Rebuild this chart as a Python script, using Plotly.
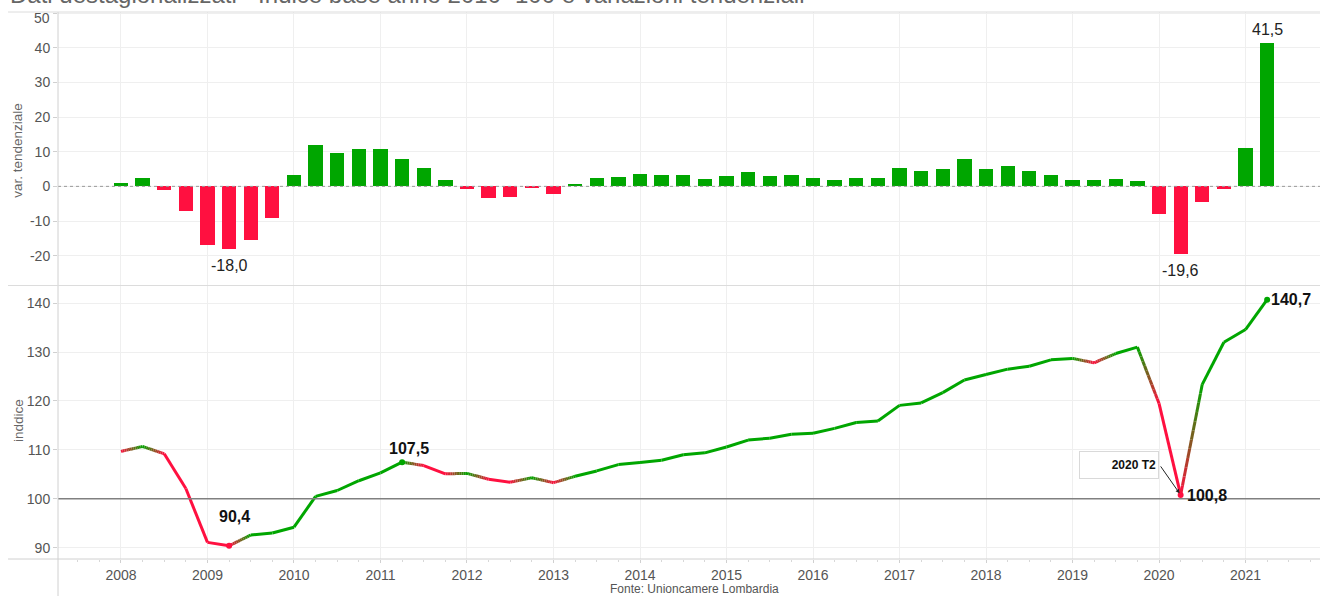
import plotly.graph_objects as go

# ---------------- data ----------------
periods = [f"{y} T{q}" for y in range(2008, 2022) for q in range(1, 5)][:54]

var_tendenziale = [
    1.0, 2.3, -1.0, -7.0,        # 2008
    -17.0, -18.0, -15.5, -9.0,   # 2009
    3.3, 11.8, 9.5, 10.8,        # 2010
    10.8, 8.0, 5.2, 1.8,         # 2011
    -0.9, -3.5, -3.0, -0.3,      # 2012
    -2.3, 0.6, 2.3, 2.8,         # 2013
    3.7, 3.2, 3.2, 2.1,          # 2014
    2.9, 4.0, 2.9, 3.2,          # 2015
    2.5, 1.8, 2.5, 2.5,          # 2016
    5.2, 4.5, 4.9, 7.9,          # 2017
    4.9, 5.9, 4.5, 3.2,          # 2018
    1.8, 1.8, 2.2, 1.5,          # 2019
    -8.1, -19.6, -4.4, -0.8,     # 2020
    11.0, 41.5,                  # 2021
]

indice = [
    109.7, 110.7, 109.2, 102.1,  # 2008
    91.1, 90.4, 92.6, 93.0,      # 2009
    94.2, 100.5, 101.7, 103.7,   # 2010
    105.3, 107.5, 106.8, 105.1,  # 2011
    105.2, 104.0, 103.4, 104.3,  # 2012
    103.3, 104.6, 105.7, 107.0,  # 2013
    107.4, 107.9, 109.0, 109.4,  # 2014
    110.6, 112.0, 112.4, 113.2,  # 2015
    113.4, 114.4, 115.6, 115.9,  # 2016
    119.1, 119.6, 121.7, 124.3,  # 2017
    125.4, 126.5, 127.1, 128.4,  # 2018
    128.7, 127.8, 129.7, 131.0,  # 2019
    119.5, 100.8, 123.4, 132.0,  # 2020
    134.6, 140.7,                # 2021
]

year_ticks = list(range(2008, 2022))
var_ticks = [-20, -10, 0, 10, 20, 30, 40, 50]
idx_ticks = [90, 100, 110, 120, 130, 140]
bar_label_periods = ["2009 T2", "2020 T2", "2021 T2"]
line_label_periods = ["2009 T2", "2011 T2", "2020 T2", "2021 T2"]
callout_period = "2020 T2"

# ---------------- styling ----------------
GREEN = (0, 166, 0)
RED = (255, 16, 64)
FONT = "Liberation Sans, Arial, sans-serif"


def rgb(c):
    return f"rgb({int(round(c[0]))},{int(round(c[1]))},{int(round(c[2]))})"


def fmt(v):
    return f"{v:.1f}".replace(".", ",")


x_num = [int(p.split(" T")[0]) + (int(p.split(" T")[1]) - 1) / 4 for p in periods]
pos = {p: i for i, p in enumerate(periods)}

fig = go.Figure()

# ---------------- bars (top panel) ----------------
bar_colors = [rgb(GREEN) if v >= 0 else rgb(RED) for v in var_tendenziale]
fig.add_trace(go.Bar(
    x=x_num, y=var_tendenziale, width=0.165,
    marker=dict(color=bar_colors, line=dict(width=0)),
    xaxis="x", yaxis="y", showlegend=False, hoverinfo="skip",
))

# ---------------- gradient line (bottom panel) ----------------
# vertex colour: green if the index rose vs previous quarter, red otherwise
vcol = ["r"]
for i in range(1, len(indice)):
    vcol.append("g" if indice[i] > indice[i - 1] else "r")

N = 12
solid = {"g": ([], []), "r": ([], [])}
grad = {}
for i in range(len(indice) - 1):
    a, b = vcol[i], vcol[i + 1]
    x0, x1 = x_num[i], x_num[i + 1]
    y0, y1 = indice[i], indice[i + 1]
    if a == b:
        solid[a][0].extend([x0, x1, None])
        solid[a][1].extend([y0, y1, None])
    else:
        for k in range(N):
            t0, t1 = k / N, (k + 1) / N
            key = (a + b, k)
            xs, ys = grad.setdefault(key, ([], []))
            xs.extend([x0 + (x1 - x0) * t0, x0 + (x1 - x0) * t1, None])
            ys.extend([y0 + (y1 - y0) * t0, y0 + (y1 - y0) * t1, None])

for c, (xs, ys) in solid.items():
    fig.add_trace(go.Scatter(
        x=xs, y=ys, mode="lines", xaxis="x2", yaxis="y2",
        line=dict(color=rgb(GREEN if c == "g" else RED), width=3),
        showlegend=False, hoverinfo="skip",
    ))
for (kind, k), (xs, ys) in grad.items():
    t = (k + 0.5) / N
    ca, cb = (GREEN, RED) if kind == "gr" else (RED, GREEN)
    col = tuple(ca[j] + (cb[j] - ca[j]) * t for j in range(3))
    fig.add_trace(go.Scatter(
        x=xs, y=ys, mode="lines", xaxis="x2", yaxis="y2",
        line=dict(color=rgb(col), width=3),
        showlegend=False, hoverinfo="skip",
    ))

# markers at labelled points
lp_idx = [pos[p] for p in line_label_periods]
fig.add_trace(go.Scatter(
    x=[x_num[i] for i in lp_idx], y=[indice[i] for i in lp_idx],
    mode="markers", xaxis="x2", yaxis="y2",
    marker=dict(size=6, color=[rgb(GREEN if vcol[i] == "g" else RED) for i in lp_idx]),
    showlegend=False, hoverinfo="skip",
))

annotations = []

# bar value labels
for p in bar_label_periods:
    i = pos[p]
    v = var_tendenziale[i]
    annotations.append(dict(
        x=x_num[i], y=v, xref="x", yref="y", text=fmt(v), showarrow=False,
        yanchor="top" if v < 0 else "bottom", yshift=-6 if v < 0 else 3,
        font=dict(family=FONT, size=16, color="#222"),
    ))

# line value labels
line_label_style = {
    "2009 T2": dict(xanchor="center", yanchor="middle", xshift=5, yshift=29),
    "2011 T2": dict(xanchor="center", yanchor="middle", xshift=7, yshift=14),
    "2020 T2": dict(xanchor="left", yanchor="middle", xshift=4, yshift=-1),
    "2021 T2": dict(xanchor="left", yanchor="middle", xshift=2, yshift=0),
}
for p in line_label_periods:
    i = pos[p]
    annotations.append(dict(
        x=x_num[i], y=indice[i], xref="x2", yref="y2",
        text=f"<b>{fmt(indice[i])}</b>", showarrow=False,
        font=dict(family=FONT, size=16, color="#111"),
        **line_label_style[p],
    ))

# callout box + arrow
ci = pos[callout_period]
annotations.append(dict(
    x=x_num[ci], y=indice[ci], xref="x2", yref="y2",
    text="<b>2020 T2</b>", showarrow=False,
    xanchor="center", yanchor="middle", xshift=-62, yshift=30,
    width=74, height=22, align="right", borderpad=2,
    bordercolor="#d9d9d9", borderwidth=1, bgcolor="white",
    font=dict(family=FONT, size=12, color="#111"),
))
annotations.append(dict(
    x=x_num[ci], y=indice[ci], xref="x2", yref="y2", text="",
    showarrow=True, ax=-21, ay=-30, arrowhead=2, arrowsize=0.8,
    arrowwidth=1, arrowcolor="#222", standoff=2,
))

# top tick label of the bar axis, nudged inside the panel as in the reference
top_tick = var_ticks[-1]
annotations.append(dict(
    x=0, y=top_tick, xref="paper", yref="y", text=str(top_tick), showarrow=False,
    xanchor="right", yanchor="middle", xshift=-6, yshift=-5,
    font=dict(family=FONT, size=14, color="#555"),
))

# axis titles
annotations.append(dict(
    x=-0.0317, y=0.748, xref="paper", yref="paper", text="var. tendenziale",
    textangle=-90, showarrow=False, xanchor="center", yanchor="middle",
    font=dict(family=FONT, size=13.5, color="#666"),
))
annotations.append(dict(
    x=-0.0317, y=0.254, xref="paper", yref="paper", text="inddice",
    textangle=-90, showarrow=False, xanchor="center", yanchor="middle",
    font=dict(family=FONT, size=13.5, color="#666"),
))

# title (cut off at the top, as in the reference)
annotations.append(dict(
    x=-0.0396, y=1, xref="paper", yref="paper", xanchor="left", yanchor="bottom",
    yshift=2, showarrow=False,
    text="Dati destagionalizzati - Indice base anno 2010=100 e variazioni tendenziali",
    font=dict(family=FONT, size=24, color="#666"),
))

# source
annotations.append(dict(
    x=0.504, y=-0.0548, xref="paper", yref="paper", xanchor="center", yanchor="middle",
    showarrow=False, text="Fonte: Unioncamere Lombardia",
    font=dict(family=FONT, size=12, color="#555"),
))

shapes = [
    dict(type="line", xref="paper", yref="y", x0=0, x1=1, y0=0, y1=0,
         line=dict(color="#999", width=1, dash="dot")),
    dict(type="line", xref="paper", yref="y2", x0=0, x1=1, y0=100, y1=100,
         line=dict(color="#808080", width=1.5)),
    dict(type="line", xref="paper", yref="paper", x0=0, x1=0, y0=-0.0677, y1=1,
         line=dict(color="#d0d0d0", width=1)),
    dict(type="line", xref="paper", yref="paper", x0=-0.0396, x1=1, y0=1, y1=1,
         line=dict(color="#dcdcdc", width=1)),
    dict(type="line", xref="paper", yref="paper", x0=-0.0396, x1=1, y0=0.5, y1=0.5,
         line=dict(color="#dcdcdc", width=1)),
    dict(type="line", xref="paper", yref="paper", x0=-0.0396, x1=1, y0=0, y1=0,
         line=dict(color="#d0d0d0", width=1)),
]

axis_font = dict(family=FONT, size=14, color="#555")
xr = [2007.272, 2021.861]

fig.update_layout(
    width=1320, height=596,
    margin=dict(l=58, r=0, t=12, b=37, autoexpand=False),
    paper_bgcolor="white", plot_bgcolor="white",
    bargap=0, showlegend=False,
    font=dict(family=FONT),
    xaxis=dict(domain=[0, 1], anchor="y", range=xr, tickvals=year_ticks,
               showticklabels=False, showgrid=True, gridcolor="#efefef",
               zeroline=False, showline=False, ticks=""),
    xaxis2=dict(domain=[0, 1], anchor="y2", range=xr, matches="x",
                tickvals=year_ticks, ticktext=[str(y) for y in year_ticks],
                tickfont=axis_font, showgrid=True, gridcolor="#efefef",
                zeroline=False, showline=False, ticks="outside", ticklen=3,
                tickcolor="#d0d0d0",
                minor=dict(dtick=0.25, tick0=2008, ticks="outside", ticklen=2,
                           tickcolor="#d8d8d8", showgrid=False)),
    yaxis=dict(domain=[0.5, 1], anchor="x", range=[-28.6, 50.3],
               tickvals=var_ticks,
               ticktext=[str(v) if v != top_tick else "" for v in var_ticks],
               tickfont=axis_font, showgrid=True, gridcolor="#efefef",
               zeroline=False, showline=False, ticks="outside", ticklen=4,
               tickcolor="#d0d0d0"),
    yaxis2=dict(domain=[0, 0.5], anchor="x2", range=[87.7, 143.6],
                tickvals=idx_ticks, ticktext=[str(v) for v in idx_ticks],
                tickfont=axis_font, showgrid=True, gridcolor="#efefef",
                zeroline=False, showline=False, ticks="outside", ticklen=4,
                tickcolor="#d0d0d0"),
    annotations=annotations,
    shapes=shapes,
)

fig.write_html(
    "out.html",
    config={"displayModeBar": False},
    post_script="document.body.style.margin='0px';document.body.style.padding='0px';"
                "document.body.style.overflow='hidden';",
)
